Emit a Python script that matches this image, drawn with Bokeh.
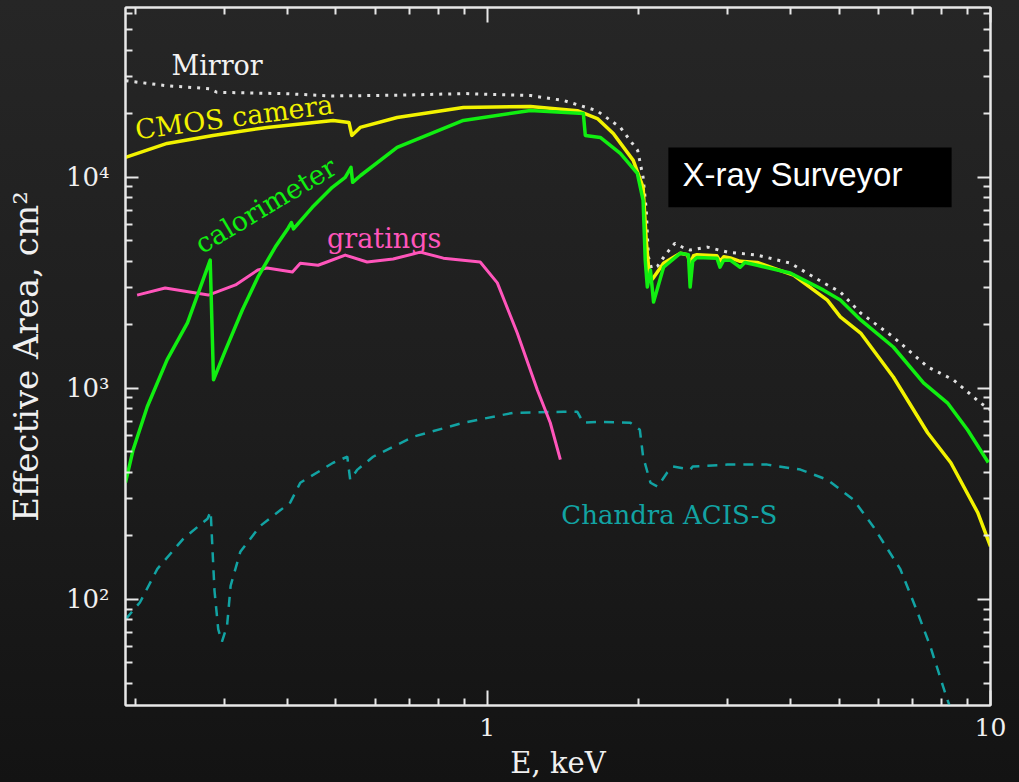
from bokeh.plotting import figure
from bokeh.models import (Range1d, LogAxis, FixedTicker, Label, BoxAnnotation,
                          GlobalInlineStyleSheet)
from bokeh.embed import file_html
from bokeh.resources import INLINE

# ---------------- data ----------------
mirror_E = [0.191, 0.23, 0.28, 0.29, 0.40, 0.49, 0.67, 0.90, 1.22, 1.42, 1.65, 1.84, 1.99,
            2.04, 2.07, 2.09, 2.12, 2.18, 2.26, 2.36, 2.45, 2.53, 2.74, 3.0, 3.44, 4.0,
            4.66, 5.03, 5.52, 6.41, 7.5, 8.44, 9.55, 10.0]
mirror_A = [28700, 27200, 26300, 25300, 24900, 24300, 24500, 24950, 24400, 23100, 20700,
            17200, 13400, 10000, 7000, 4200, 3700, 3800, 4300, 4870, 4650, 4520, 4670, 4420,
            4280, 3920, 3160, 2860, 2275, 1750, 1264, 1097, 853, 790]

cmos_E = [0.191, 0.231, 0.285, 0.365, 0.494, 0.531, 0.538, 0.559, 0.662, 0.896, 1.218,
          1.51, 1.655, 1.78, 1.95, 2.04, 2.07, 2.10, 2.13, 2.24, 2.42, 2.50, 2.53, 2.57,
          2.61, 2.86, 2.90, 2.95, 3.04, 3.18, 3.44, 4.06, 4.74, 5.03, 5.52, 6.41, 7.5,
          8.34, 9.43, 10.0]
cmos_A = [12430, 14480, 15800, 17240, 18600, 18200, 15800, 17240, 19200, 21400, 21660,
          20700, 19000, 16140, 12030, 8970, 5000, 3370, 3300, 3920, 4370, 4300, 3900, 4250,
          4300, 4250, 4000, 4200, 4150, 4000, 3950, 3440, 2620, 2180, 1828, 1132, 616,
          444, 258, 178]

calor_E = [0.191, 0.1978, 0.211, 0.231, 0.2536, 0.2814, 0.2857, 0.302, 0.326, 0.35, 0.379,
           0.402, 0.408, 0.412, 0.449, 0.492, 0.522, 0.536, 0.540, 0.56, 0.662, 0.896,
           1.218, 1.552, 1.566, 1.677, 1.838, 1.987, 2.04, 2.06, 2.08, 2.11, 2.14, 2.24,
           2.42, 2.51, 2.53, 2.56, 2.61, 2.86, 2.90, 2.95, 3.04, 3.18, 3.25, 3.44, 4.0,
           4.66, 5.03, 5.52, 6.41, 7.36, 8.21, 9.0, 9.9]
calor_A = [357, 512, 818, 1364, 2041, 4050, 1098, 1520, 2350, 3365, 4670,
           5740, 6100, 5700, 7210, 8970, 10000, 11150, 9470, 10200, 13860, 18600,
           20730, 20070, 15800, 15460, 12990, 10440, 7780, 4050, 3020, 3630, 2566, 3750,
           4370, 4300, 3020, 4000, 4170, 4140, 3750, 4050, 4050, 3750, 3950, 3830, 3520,
           2920, 2620, 2110, 1570, 1062, 854, 636, 445]

grat_E = [0.2014, 0.229, 0.279, 0.316, 0.35, 0.365, 0.41, 0.425, 0.461, 0.48, 0.522,
          0.577, 0.65, 0.736, 0.818, 0.968, 1.047, 1.147, 1.257, 1.334, 1.397]
grat_A = [2766, 2990, 2766, 3090, 3640, 3717, 3560, 3920, 3830, 3970, 4280,
          3970, 4100, 4420, 4140, 3970, 3160, 1828, 985, 687, 459]

acis_E = [0.191, 0.204, 0.221, 0.249, 0.278, 0.282, 0.287, 0.292, 0.297, 0.304, 0.309,
          0.323, 0.354, 0.406, 0.425, 0.494, 0.527, 0.534, 0.552, 0.593, 0.713, 0.896,
          1.126, 1.416, 1.51, 1.552, 1.655, 1.925, 2.01, 2.04, 2.11, 2.18, 2.28, 2.34,
          2.53, 2.56, 3.0, 3.6, 4.19, 4.74, 5.34, 5.85, 6.62, 7.16, 7.59, 8.2, 8.35]
acis_A = [80.4, 96.6, 139.5, 194, 241, 261, 110, 72, 63, 75, 116,
          168, 223, 288, 357, 444, 474, 369, 412, 474, 590, 687,
          766, 774, 774, 687, 693, 687, 636, 474, 357, 342, 400, 426,
          412, 426, 435, 435, 412, 369, 297, 221, 139, 86.8, 60, 33.7, 30]

x_tick_values = [1, 10]
x_tick_labels = ["1", "10"]
y_tick_values = [100, 1000, 10000]
y_tick_labels = ["10\u00b2", "10\u00b3", "10\u2074"]

curve_labels = ["Mirror", "CMOS camera", "calorimeter", "gratings", "Chandra ACIS-S"]
title_text = "X-ray Surveyor"

# ---------------- figure ----------------
AX = "#e8e8e8"
SERIF = "DejaVu Serif"

p = figure(width=1019, height=782, x_axis_type="log", y_axis_type="log",
           x_range=Range1d(0.191, 10.0), y_range=Range1d(31.4, 63800),
           output_backend="svg", toolbar_location=None,
           min_border_left=125, min_border_right=29, min_border_top=7,
           min_border_bottom=75)
p.background_fill_alpha = 0
p.border_fill_alpha = 0
p.outline_line_color = AX
p.outline_line_width = 2
p.xgrid.grid_line_color = None
p.ygrid.grid_line_color = None
p.stylesheets = [GlobalInlineStyleSheet(css=(
    "html { background: linear-gradient(to bottom, #262626 0%, #1d1d1d 55%, #131313 100%) fixed;"
    " min-height: 100%; } html, body { margin: 0; padding: 0; overflow: hidden; }"
    " body { background: transparent; }"))]

x_minor = [m * 10.0 ** d for d in (-1, 0) for m in range(2, 10)]
y_minor = [m * 10.0 ** d for d in (1, 2, 3, 4) for m in range(2, 10)]
xt = FixedTicker(ticks=x_tick_values, minor_ticks=x_minor)
yt = FixedTicker(ticks=y_tick_values, minor_ticks=y_minor)


def style_axis(ax, maj):
    ax.axis_line_color = AX
    ax.axis_line_width = 2
    ax.major_tick_line_color = AX
    ax.major_tick_line_width = 2
    ax.minor_tick_line_color = AX
    ax.minor_tick_line_width = 2
    ax.major_tick_out = 0
    ax.minor_tick_out = 0
    ax.major_tick_in = maj
    ax.minor_tick_in = 7


xa = p.xaxis[0]
xa.ticker = xt
xa.major_label_overrides = dict(zip(x_tick_values, x_tick_labels))
style_axis(xa, 15)
xa.major_label_text_font = SERIF
xa.major_label_text_font_size = "25px"
xa.major_label_text_color = "#f0f0f0"
xa.major_label_standoff = 12
xa.axis_label = "E, keV"
xa.axis_label_text_font = SERIF
xa.axis_label_text_font_size = "29px"
xa.axis_label_text_font_style = "normal"
xa.axis_label_text_color = "#f0f0f0"
xa.axis_label_standoff = 7

ya = p.yaxis[0]
ya.ticker = yt
ya.major_label_overrides = dict(zip(y_tick_values, y_tick_labels))
style_axis(ya, 13)
ya.major_label_text_font = SERIF
ya.major_label_text_font_size = "26px"
ya.major_label_text_color = "#f0f0f0"
ya.major_label_standoff = 16
ya.axis_label = "Effective Area, cm\u00b2"
ya.axis_label_text_font = SERIF
ya.axis_label_text_font_size = "34px"
ya.axis_label_text_font_style = "normal"
ya.axis_label_text_color = "#f0f0f0"
ya.axis_label_standoff = 17

top = LogAxis(ticker=xt, major_label_text_font_size="1px", major_label_text_alpha=0,
              major_label_standoff=0)
style_axis(top, 15)
p.add_layout(top, "above")
right = LogAxis(ticker=yt, major_label_text_font_size="1px", major_label_text_alpha=0,
                major_label_standoff=0)
style_axis(right, 13)
p.add_layout(right, "right")

# ---------------- curves ----------------
p.line(x=acis_E, y=acis_A, line_color="#12a3a3", line_width=2.5, line_dash="10 8")
p.line(x=grat_E, y=grat_A, line_color="#ff55bb", line_width=3, line_join="round")
p.line(x=mirror_E, y=mirror_A, line_color="#e0e0e0", line_width=3, line_dash="3 6")
p.line(x=cmos_E, y=cmos_A, line_color="#f2f200", line_width=3.5, line_join="round")
p.line(x=calor_E, y=calor_A, line_color="#11ee11", line_width=3.5, line_join="round")

# ---------------- labels ----------------
p.add_layout(Label(x=0.2905, y=33860, text=curve_labels[0], text_font=SERIF,
                   text_font_size="27px", text_color="#f2f2f2",
                   text_align="center", text_baseline="middle"))
p.add_layout(Label(x=0.314, y=19320, text=curve_labels[1], text_font=SERIF,
                   text_font_size="27px", text_color="#f2f200", angle=0.13,
                   text_align="center", text_baseline="middle"))
p.add_layout(Label(x=0.3627, y=7374, text=curve_labels[2], text_font=SERIF,
                   text_font_size="27px", text_color="#11ee11", angle=0.54,
                   text_align="center", text_baseline="middle"))
p.add_layout(Label(x=0.624, y=5148, text=curve_labels[3], text_font=SERIF,
                   text_font_size="27px", text_color="#ff55bb",
                   text_align="center", text_baseline="middle"))
p.add_layout(Label(x=2.30, y=252, text=curve_labels[4], text_font=SERIF,
                   text_font_size="26px", text_color="#12a3a3",
                   text_align="center", text_baseline="middle"))

p.add_layout(BoxAnnotation(left=2.29, right=8.37, bottom=7214, top=13860,
                           fill_color="black", fill_alpha=1, line_color=None))
p.add_layout(Label(x=2.442, y=10280, text=title_text, text_font="Liberation Sans",
                   text_font_size="33px", text_color="#ffffff",
                   text_align="left", text_baseline="middle"))

open("out.html", "w").write(file_html(p, INLINE))
